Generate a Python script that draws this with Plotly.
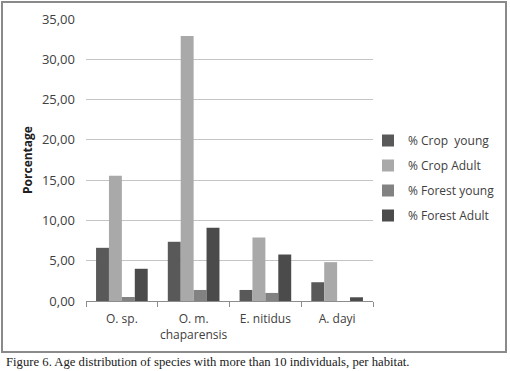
import plotly.graph_objects as go

categories = ["O. sp.", "O. m.<br>chaparensis", "E. nitidus", "A. dayi"]
crop_young = [6.6, 7.35, 1.37, 2.33]
crop_adult = [15.55, 32.9, 7.88, 4.82]
forest_young = [0.5, 1.37, 1.0, 0.0]
forest_adult = [4.0, 9.1, 5.77, 0.46]
series_names = ["% Crop  young", "% Crop Adult", "% Forest young", "% Forest Adult"]
series_values = [crop_young, crop_adult, forest_young, forest_adult]
colors = ["#595959", "#a9a9a9", "#828282", "#4b4b4b"]
tick_vals = [0, 5, 10, 15, 20, 25, 30, 35]
tick_text = ["0,00", "5,00", "10,00", "15,00", "20,00", "25,00", "30,00", "35,00"]
caption = "Figure 6. Age distribution of species with more than 10 individuals, per habitat."

FONT = "Open Sans"

fig = go.Figure()
for i, (name, vals, c) in enumerate(zip(series_names, series_values, colors)):
    fig.add_trace(go.Bar(x=categories, y=vals, name=name, marker_color=c,
                         marker_line_width=0, legendgroup=f"g{i}"))

L, R, T, B = 86, 137, 19, 70
W, H = 510, 371
pw, ph = W - L - R, H - T - B

def px(xp):
    return (xp - L) / pw

def py(yp):
    return (H - B - yp) / ph

fig.update_layout(
    width=W, height=H,
    margin=dict(l=L, r=R, t=T, b=B, autoexpand=False),
    paper_bgcolor="white", plot_bgcolor="white",
    barmode="group", bargap=0.28, bargroupgap=0,
    font=dict(family=FONT, size=12, color="#404040"),
    showlegend=True,
    legend=dict(x=px(368), y=py(126), xanchor="left", yanchor="top",
                font=dict(family=FONT, size=12, color="#404040"),
                tracegroupgap=6, itemwidth=30, bgcolor="rgba(0,0,0,0)",
                traceorder="grouped"),
    xaxis=dict(showline=True, linecolor="#8c8c8c", linewidth=1, automargin=False,
               ticks="outside", tickson="boundaries", ticklen=5, tickcolor="#8c8c8c",
               tickangle=0, showgrid=False, ticklabelstandoff=7,
               tickfont=dict(family=FONT, size=12, color="#404040")),
    yaxis=dict(range=[0, 35], tickvals=tick_vals, ticktext=tick_text, automargin=False,
               showgrid=True, gridcolor="#c4c4c4", gridwidth=1,
               showline=False, zeroline=False, ticks="", ticklabelstandoff=10,
               tickfont=dict(family=FONT, size=13, color="#404040"),
               title=dict(text="<b>Porcentage</b>", standoff=6,
                          font=dict(family=FONT, size=12, color="#202020"))),
    shapes=[dict(type="rect", xref="paper", yref="paper",
                 x0=px(2), x1=px(506), y0=py(352), y1=py(2),
                 line=dict(color="#8a8a8a", width=2), fillcolor="rgba(0,0,0,0)", layer="below")],
    annotations=[dict(text=caption, xref="paper", yref="paper", x=px(4), y=py(362),
                      xanchor="left", yanchor="middle", showarrow=False,
                      font=dict(family="Liberation Serif", size=12.7, color="#202020"))],
)

fig.write_html("out.html", config={"displayModeBar": False},
               post_script="document.body.style.margin='0';")
